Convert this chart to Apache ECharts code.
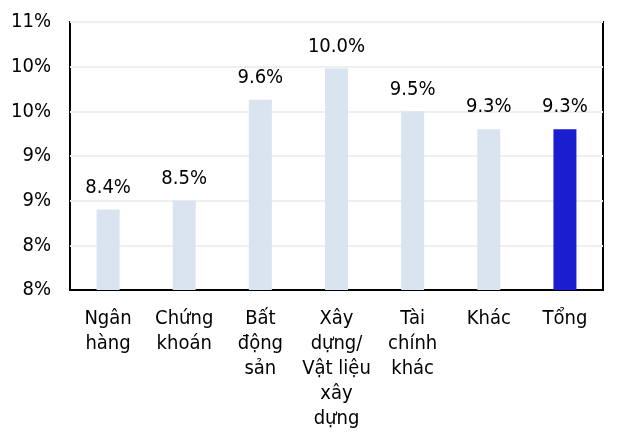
<!DOCTYPE html>
<html>
<head>
<meta charset="utf-8">
<script src="https://cdn.jsdelivr.net/npm/echarts@6/dist/echarts.min.js"></script>
<style>
  html, body { margin: 0; padding: 0; background: #fff; }
  #chart { width: 631px; height: 433px; }
</style>
</head>
<body>
<div id="chart"></div>
<script>
// du lieu
var categories = ["Ngân\nhàng", "Chứng\nkhoán", "Bất\nđộng\nsản", "Xây\ndựng/\nVật liệu\nxây\ndựng", "Tài\nchính\nkhác", "Khác", "Tổng"];
var values = [8.4, 8.5, 9.63, 9.98, 9.5, 9.3, 9.3];
var labels = ["8.4%", "8.5%", "9.6%", "10.0%", "9.5%", "9.3%", "9.3%"];

(function() {
  var myChart = echarts.init(document.getElementById("chart"));
  var font = "DejaVu Sans Condensed";
  var data = values.map(function(v, i) {
    return {
      value: v,
      itemStyle: { color: i === values.length - 1 ? "#1a1ecf" : "#dae3f0" },
      label: { formatter: labels[i] }
    };
  });
  var option = {
    animation: false,
    grid: {
      left: 70,
      right: 28,
      top: 22,
      bottom: 143,
      show: true,
      borderColor: "#000",
      borderWidth: 2
    },
    xAxis: {
      type: "category",
      data: categories,
      axisTick: { show: false },
      axisLine: { lineStyle: { color: "#000", width: 2 } },
      axisLabel: {
        interval: 0,
        color: "#000",
        fontFamily: font,
        fontSize: 20,
        lineHeight: 25,
        margin: 16,
        verticalAlign: "top"
      }
    },
    yAxis: {
      type: "value",
      min: 7.5,
      max: 10.5,
      interval: 0.5,
      axisLine: { show: false },
      axisTick: { show: false },
      axisLabel: {
        color: "#000",
        fontFamily: font,
        fontSize: 20,
        margin: 19,
        formatter: function(v) {
          return Math.round(v) + "%";
        }
      },
      splitLine: { lineStyle: { color: "#efefef", width: 2 } }
    },
    series: [
      {
        type: "bar",
        barWidth: 23,
        data: data,
        label: {
          show: true,
          position: "top",
          distance: 12,
          color: "#000",
          fontFamily: font,
          fontSize: 20
        }
      }
    ]
  };
  myChart.setOption(option);
})();
</script>
</body>
</html>
